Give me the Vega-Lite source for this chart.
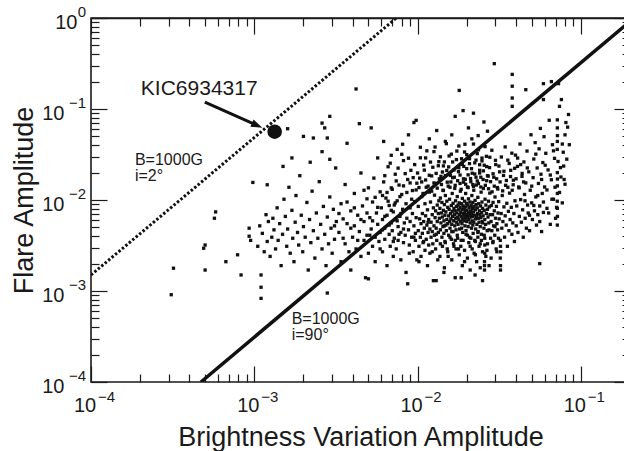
{
  "$schema": "https://vega.github.io/schema/vega-lite/v6.json",
  "width": 539,
  "height": 364,
  "autosize": {"type": "none"},
  "padding": {"left": 91, "top": 18, "right": -6, "bottom": 69},
  "background": "white",
  "config": {
    "view": {"stroke": "#1a1a1a", "strokeWidth": 1.6},
    "font": "Liberation Sans",
    "axis": {"grid": false, "domain": false, "labelColor": "#1a1a1a", "titleColor": "#1a1a1a", "labelFont": "Liberation Sans", "titleFont": "Liberation Sans", "labelFlush": false, "labelOverlap": false, "labelBound": false}
  },
  "resolve": {"axis": {"x": "independent", "y": "independent"}},
  "datasets": {
    "stars": [
      {"x":0.00031,"y":0.00091},{"x":0.00032,"y":0.00178},{"x":0.00049,"y":0.00295},{"x":0.0005,"y":0.0032},{"x":0.0005,"y":0.0017},{"x":0.00057,"y":0.0063},{"x":0.00058,"y":0.0074},{"x":0.00067,"y":0.0021},{"x":0.00079,"y":0.0025},{"x":0.00083,"y":0.0015},{"x":0.00093,"y":0.0049},{"x":0.00093,"y":0.004},{"x":0.00098,"y":0.0156},{"x":0.00095,"y":0.0036},
      {"x":0.0011,"y":0.0015},{"x":0.0011,"y":0.0011},{"x":0.0011,"y":0.00083},{"x":0.0012,"y":0.0147},{"x":0.0015,"y":0.0234},{"x":0.0016,"y":0.0607},{"x":0.002,"y":0.05},{"x":0.0023,"y":0.048},{"x":0.0026,"y":0.07},{"x":0.0027,"y":0.062},{"x":0.0028,"y":0.048},{"x":0.0028,"y":0.00095},{"x":0.0029,"y":0.083},
      {"x":0.00105,"y":0.0031},{"x":0.00108,"y":0.0052},{"x":0.00112,"y":0.0043},{"x":0.00115,"y":0.0027},{"x":0.00118,"y":0.0069},{"x":0.0012,"y":0.0035},{"x":0.00122,"y":0.0058},{"x":0.00125,"y":0.0024},{"x":0.00128,"y":0.0039},{"x":0.0013,"y":0.0063},{"x":0.00132,"y":0.0047},{"x":0.00135,"y":0.0029},{"x":0.00138,"y":0.0082},{"x":0.0014,"y":0.0036},{"x":0.00143,"y":0.0055},{"x":0.00146,"y":0.0019},{"x":0.00149,"y":0.0042},{"x":0.00152,"y":0.0102},{"x":0.00155,"y":0.0066},{"x":0.00158,"y":0.0031},{"x":0.0016,"y":0.0048},{"x":0.00163,"y":0.0138},{"x":0.00166,"y":0.0026},{"x":0.0017,"y":0.0077},{"x":0.00172,"y":0.0038},{"x":0.00175,"y":0.0021},{"x":0.00178,"y":0.0057},{"x":0.0018,"y":0.0112},{"x":0.00184,"y":0.0044},{"x":0.00187,"y":0.0032},{"x":0.0019,"y":0.0185},{"x":0.00194,"y":0.0068},{"x":0.00198,"y":0.0027},{"x":0.002,"y":0.0051},{"x":0.00205,"y":0.0039},{"x":0.0021,"y":0.0094},{"x":0.00214,"y":0.0017},{"x":0.00218,"y":0.0061},{"x":0.00222,"y":0.0034},{"x":0.00226,"y":0.0125},{"x":0.0023,"y":0.0046},{"x":0.00235,"y":0.0023},{"x":0.0024,"y":0.0072},{"x":0.00245,"y":0.0038},{"x":0.0025,"y":0.0159},{"x":0.00255,"y":0.0054},{"x":0.0026,"y":0.0029},{"x":0.00265,"y":0.0085},{"x":0.0027,"y":0.0042},{"x":0.00275,"y":0.0019},{"x":0.0028,"y":0.0065},{"x":0.00285,"y":0.0033},{"x":0.0029,"y":0.0108},{"x":0.00295,"y":0.0049},{"x":0.003,"y":0.0026},{"x":0.00305,"y":0.0079},{"x":0.0031,"y":0.0037},{"x":0.00315,"y":0.0225},{"x":0.00318,"y":0.0058},{"x":0.0017,"y":0.029},{"x":0.0022,"y":0.026},{"x":0.0026,"y":0.034},{"x":0.0029,"y":0.028},
      {"x":0.0033,"y":0.0044},{"x":0.0034,"y":0.0091},{"x":0.0034,"y":0.0021},{"x":0.0035,"y":0.0062},{"x":0.0036,"y":0.0148},{"x":0.0036,"y":0.0033},{"x":0.0037,"y":0.042},{"x":0.0037,"y":0.0055},{"x":0.0038,"y":0.0027},{"x":0.0039,"y":0.0076},{"x":0.0039,"y":0.0017},{"x":0.004,"y":0.0039},{"x":0.0041,"y":0.0118},{"x":0.0041,"y":0.0052},{"x":0.0042,"y":0.166},{"x":0.0042,"y":0.0029},{"x":0.0043,"y":0.0068},{"x":0.0044,"y":0.069},{"x":0.0044,"y":0.0045},{"x":0.0045,"y":0.0024},{"x":0.0045,"y":0.0198},{"x":0.0046,"y":0.0086},{"x":0.0047,"y":0.0036},{"x":0.0047,"y":0.0058},{"x":0.0048,"y":0.0014},{"x":0.0049,"y":0.0103},{"x":0.0049,"y":0.0041},{"x":0.005,"y":0.0136},{"x":0.005,"y":0.0026},{"x":0.0051,"y":0.0064},{"x":0.0052,"y":0.062},{"x":0.0052,"y":0.0048},{"x":0.0053,"y":0.0031},{"x":0.0053,"y":0.0095},{"x":0.0054,"y":0.0174},{"x":0.0055,"y":0.0039},{"x":0.0055,"y":0.0021},{"x":0.0056,"y":0.0072},{"x":0.0057,"y":0.0054},{"x":0.0057,"y":0.029},{"x":0.0058,"y":0.0035},{"x":0.0059,"y":0.0123},{"x":0.0059,"y":0.0044},{"x":0.006,"y":0.0082},{"x":0.0061,"y":0.0027},{"x":0.0061,"y":0.0061},{"x":0.0062,"y":0.0158},{"x":0.0063,"y":0.0049},{"x":0.0063,"y":0.0037},{"x":0.0064,"y":0.0105},{"x":0.0065,"y":0.0019},{"x":0.0065,"y":0.0068},{"x":0.0066,"y":0.0232},{"x":0.0067,"y":0.0042},{"x":0.0067,"y":0.0087},{"x":0.0068,"y":0.0031},{"x":0.0069,"y":0.0056},{"x":0.0069,"y":0.0136},{"x":0.007,"y":0.0046},{"x":0.0071,"y":0.0024},{"x":0.0071,"y":0.0074},{"x":0.0072,"y":0.0038},{"x":0.0073,"y":0.0192},{"x":0.0073,"y":0.0061},{"x":0.0074,"y":0.0029},{"x":0.0075,"y":0.0098},{"x":0.0076,"y":0.0051},{"x":0.0076,"y":0.0036},{"x":0.0077,"y":0.0146},{"x":0.0078,"y":0.0066},{"x":0.0079,"y":0.0022},{"x":0.0079,"y":0.0044},{"x":0.008,"y":0.0115},{"x":0.0081,"y":0.0079},{"x":0.0082,"y":0.0034},{"x":0.0082,"y":0.0271},{"x":0.0083,"y":0.0056},{"x":0.0084,"y":0.0041},{"x":0.0085,"y":0.0091},{"x":0.0085,"y":0.0016},{"x":0.0086,"y":0.0063},{"x":0.0087,"y":0.0012},{"x":0.0087,"y":0.0168},{"x":0.0088,"y":0.0047},{"x":0.0089,"y":0.0032},{"x":0.009,"y":0.0082},{"x":0.009,"y":0.0058},{"x":0.0091,"y":0.0212},{"x":0.0092,"y":0.0039},{"x":0.0093,"y":0.0071},{"x":0.0093,"y":0.0127},{"x":0.0094,"y":0.0027},{"x":0.0095,"y":0.0052},{"x":0.0096,"y":0.0096},{"x":0.0097,"y":0.0043},{"x":0.0097,"y":0.0036},{"x":0.0098,"y":0.0064},{"x":0.0099,"y":0.0153},{"x":0.0099,"y":0.0022},{"x":0.0062,"y":0.044},{"x":0.0075,"y":0.036},{"x":0.0088,"y":0.052},{"x":0.0095,"y":0.071},{"x":0.0098,"y":0.075},{"x":0.0069,"y":0.031},{"x":0.0081,"y":0.041},
      {"x":0.0101,"y":0.0046},{"x":0.0101,"y":0.0085},{"x":0.0102,"y":0.0031},{"x":0.0103,"y":0.0062},{"x":0.0103,"y":0.0174},{"x":0.0104,"y":0.0039},{"x":0.0105,"y":0.0055},{"x":0.0105,"y":0.0024},{"x":0.0106,"y":0.0109},{"x":0.0107,"y":0.0071},{"x":0.0107,"y":0.0043},{"x":0.0108,"y":0.0034},{"x":0.0109,"y":0.0242},{"x":0.0109,"y":0.0058},{"x":0.011,"y":0.0049},{"x":0.0111,"y":0.0091},{"x":0.0111,"y":0.0028},{"x":0.0112,"y":0.0067},{"x":0.0113,"y":0.0037},{"x":0.0113,"y":0.0138},{"x":0.0114,"y":0.0053},{"x":0.0115,"y":0.0019},{"x":0.0115,"y":0.0078},{"x":0.0116,"y":0.0044},{"x":0.0117,"y":0.0032},{"x":0.0117,"y":0.0061},{"x":0.0118,"y":0.0122},{"x":0.0119,"y":0.0048},{"x":0.0119,"y":0.0026},{"x":0.012,"y":0.0095},{"x":0.0121,"y":0.0057},{"x":0.0121,"y":0.0039},{"x":0.0122,"y":0.0184},{"x":0.0123,"y":0.0069},{"x":0.0123,"y":0.0045},{"x":0.0124,"y":0.0033},{"x":0.0125,"y":0.0082},{"x":0.0125,"y":0.0013},{"x":0.0126,"y":0.0052},{"x":0.0127,"y":0.0113},{"x":0.0127,"y":0.0041},{"x":0.0128,"y":0.0064},{"x":0.0129,"y":0.0029},{"x":0.0129,"y":0.0076},{"x":0.013,"y":0.0152},{"x":0.013,"y":0.0049},{"x":0.0131,"y":0.0036},{"x":0.0132,"y":0.0088},{"x":0.0132,"y":0.0058},{"x":0.0133,"y":0.0022},{"x":0.0134,"y":0.0071},{"x":0.0134,"y":0.0044},{"x":0.0135,"y":0.0264},{"x":0.0135,"y":0.0098},{"x":0.0104,"y":0.038},{"x":0.0112,"y":0.029},{"x":0.0118,"y":0.047},{"x":0.0126,"y":0.034},{"x":0.0131,"y":0.058},
      {"x":0.0136,"y":0.0063},{"x":0.0137,"y":0.0081},{"x":0.0138,"y":0.0047},{"x":0.0138,"y":0.0105},{"x":0.0139,"y":0.0056},{"x":0.014,"y":0.0072},{"x":0.0141,"y":0.0039},{"x":0.0141,"y":0.0094},{"x":0.0142,"y":0.0065},{"x":0.0143,"y":0.0051},{"x":0.0143,"y":0.0128},{"x":0.0144,"y":0.0077},{"x":0.0145,"y":0.0043},{"x":0.0145,"y":0.0059},{"x":0.0146,"y":0.0089},{"x":0.0147,"y":0.0035},{"x":0.0147,"y":0.0068},{"x":0.0148,"y":0.0112},{"x":0.0149,"y":0.0053},{"x":0.0149,"y":0.0074},{"x":0.015,"y":0.0046},{"x":0.0151,"y":0.0097},{"x":0.0151,"y":0.0061},{"x":0.0152,"y":0.0029},{"x":0.0153,"y":0.0083},{"x":0.0153,"y":0.0055},{"x":0.0154,"y":0.0142},{"x":0.0155,"y":0.0067},{"x":0.0155,"y":0.0041},{"x":0.0156,"y":0.0079},{"x":0.0157,"y":0.0058},{"x":0.0157,"y":0.0102},{"x":0.0158,"y":0.0049},{"x":0.0159,"y":0.0071},{"x":0.0159,"y":0.0186},{"x":0.016,"y":0.0062},{"x":0.0161,"y":0.0087},{"x":0.0161,"y":0.0037},{"x":0.0162,"y":0.0054},{"x":0.0163,"y":0.0075},{"x":0.0163,"y":0.0118},{"x":0.0164,"y":0.0066},{"x":0.0165,"y":0.0045},{"x":0.0165,"y":0.0092},{"x":0.0166,"y":0.0059},{"x":0.0167,"y":0.0081},{"x":0.0167,"y":0.0031},{"x":0.0168,"y":0.0069},{"x":0.0169,"y":0.0052},{"x":0.0169,"y":0.0134},{"x":0.017,"y":0.0076},{"x":0.0171,"y":0.0063},{"x":0.0171,"y":0.0098},{"x":0.0172,"y":0.0047},{"x":0.0173,"y":0.0085},{"x":0.0173,"y":0.0057},{"x":0.0174,"y":0.0072},{"x":0.0175,"y":0.0041},{"x":0.0175,"y":0.0109},{"x":0.0176,"y":0.0065},{"x":0.0177,"y":0.0088},{"x":0.0177,"y":0.0054},{"x":0.0178,"y":0.0078},{"x":0.0179,"y":0.0226},{"x":0.0179,"y":0.0061},{"x":0.018,"y":0.0093},{"x":0.0181,"y":0.0069},{"x":0.0181,"y":0.0048},{"x":0.0182,"y":0.0083},{"x":0.0183,"y":0.0058},{"x":0.0183,"y":0.0125},{"x":0.0184,"y":0.0073},{"x":0.0185,"y":0.0036},{"x":0.0185,"y":0.0066},{"x":0.0186,"y":0.0091},{"x":0.0187,"y":0.0055},{"x":0.0187,"y":0.0079},{"x":0.0188,"y":0.0104},{"x":0.0189,"y":0.0062},{"x":0.0189,"y":0.0044},{"x":0.019,"y":0.0086},{"x":0.0191,"y":0.0071},{"x":0.0191,"y":0.0157},{"x":0.0192,"y":0.0059},{"x":0.0193,"y":0.0081},{"x":0.0193,"y":0.0067},{"x":0.0194,"y":0.0097},{"x":0.0195,"y":0.0052},{"x":0.0195,"y":0.0075},{"x":0.0196,"y":0.0063},{"x":0.0197,"y":0.0118},{"x":0.0197,"y":0.0084},{"x":0.0198,"y":0.0046},{"x":0.0199,"y":0.0069},{"x":0.0199,"y":0.0092},{"x":0.02,"y":0.0058},{"x":0.0201,"y":0.0077},{"x":0.0202,"y":0.0139},{"x":0.0202,"y":0.0064},{"x":0.0203,"y":0.0088},{"x":0.0204,"y":0.0051},{"x":0.0205,"y":0.0072},{"x":0.0205,"y":0.0103},{"x":0.0206,"y":0.0061},{"x":0.0207,"y":0.0083},{"x":0.0208,"y":0.0039},{"x":0.0208,"y":0.0068},{"x":0.0209,"y":0.0095},{"x":0.021,"y":0.0056},{"x":0.0211,"y":0.0076},{"x":0.0211,"y":0.0172},{"x":0.0212,"y":0.0065},{"x":0.0213,"y":0.0087},{"x":0.0214,"y":0.0049},{"x":0.0214,"y":0.0071},{"x":0.0215,"y":0.0112},{"x":0.0216,"y":0.0059},{"x":0.0217,"y":0.0081},{"x":0.0217,"y":0.0066},{"x":0.0218,"y":0.0094},{"x":0.0219,"y":0.0043},{"x":0.022,"y":0.0074},{"x":0.0221,"y":0.0128},{"x":0.0221,"y":0.0057},{"x":0.0222,"y":0.0085},{"x":0.0223,"y":0.0068},{"x":0.0224,"y":0.0036},{"x":0.0225,"y":0.0099},{"x":0.0226,"y":0.0062},{"x":0.0226,"y":0.0078},{"x":0.0227,"y":0.0048},{"x":0.0228,"y":0.0089},{"x":0.0229,"y":0.0146},{"x":0.023,"y":0.0066},{"x":0.0231,"y":0.0054},{"x":0.0232,"y":0.0082},{"x":0.0233,"y":0.0071},{"x":0.0234,"y":0.0107},{"x":0.0235,"y":0.0045},{"x":0.0236,"y":0.0063},{"x":0.0237,"y":0.0091},{"x":0.0238,"y":0.0057},{"x":0.0239,"y":0.0076},{"x":0.024,"y":0.0198},{"x":0.0241,"y":0.0069},{"x":0.0242,"y":0.0051},{"x":0.0243,"y":0.0086},{"x":0.0244,"y":0.0064},{"x":0.0245,"y":0.0122},{"x":0.0246,"y":0.0042},{"x":0.0247,"y":0.0073},{"x":0.0248,"y":0.0095},{"x":0.0249,"y":0.0058},{"x":0.025,"y":0.0081},{"x":0.0252,"y":0.0067},{"x":0.0253,"y":0.0134},{"x":0.0255,"y":0.0049},{"x":0.0256,"y":0.0077},{"x":0.0258,"y":0.0061},{"x":0.0259,"y":0.0102},{"x":0.0261,"y":0.0054},{"x":0.0262,"y":0.0088},{"x":0.0264,"y":0.0071},{"x":0.0265,"y":0.0163},{"x":0.0267,"y":0.0046},{"x":0.0268,"y":0.0079},{"x":0.027,"y":0.0065},{"x":0.0272,"y":0.0097},{"x":0.0273,"y":0.0056},{"x":0.0275,"y":0.0084},{"x":0.0277,"y":0.0119},{"x":0.0278,"y":0.0069},
      {"x":0.0137,"y":0.0024},{"x":0.0139,"y":0.0182},{"x":0.0142,"y":0.0031},{"x":0.0144,"y":0.0237},{"x":0.0146,"y":0.0018},{"x":0.0148,"y":0.0034},{"x":0.0151,"y":0.0211},{"x":0.0153,"y":0.0027},{"x":0.0156,"y":0.0305},{"x":0.0158,"y":0.0039},{"x":0.016,"y":0.0158},{"x":0.0162,"y":0.0022},{"x":0.0164,"y":0.0262},{"x":0.0166,"y":0.0033},{"x":0.0168,"y":0.0178},{"x":0.017,"y":0.0014},{"x":0.0172,"y":0.0029},{"x":0.0174,"y":0.0345},{"x":0.0176,"y":0.0038},{"x":0.0178,"y":0.0205},{"x":0.018,"y":0.0025},{"x":0.0182,"y":0.0152},{"x":0.0184,"y":0.0031},{"x":0.0186,"y":0.0284},{"x":0.0188,"y":0.0019},{"x":0.019,"y":0.0036},{"x":0.0192,"y":0.0234},{"x":0.0194,"y":0.0028},{"x":0.0196,"y":0.0169},{"x":0.0198,"y":0.0042},{"x":0.02,"y":0.0315},{"x":0.0202,"y":0.0023},{"x":0.0204,"y":0.0189},{"x":0.0206,"y":0.0034},{"x":0.0208,"y":0.0251},{"x":0.021,"y":0.0017},{"x":0.0212,"y":0.0038},{"x":0.0214,"y":0.0221},{"x":0.0216,"y":0.0029},{"x":0.0218,"y":0.0148},{"x":0.022,"y":0.0412},{"x":0.0222,"y":0.0026},{"x":0.0224,"y":0.0193},{"x":0.0226,"y":0.0035},{"x":0.0228,"y":0.0274},{"x":0.023,"y":0.0021},{"x":0.0232,"y":0.0162},{"x":0.0234,"y":0.0039},{"x":0.0236,"y":0.0356},{"x":0.0238,"y":0.0031},{"x":0.024,"y":0.0244},{"x":0.0242,"y":0.0018},{"x":0.0244,"y":0.0178},{"x":0.0246,"y":0.0036},{"x":0.0248,"y":0.0289},{"x":0.025,"y":0.0027},{"x":0.0253,"y":0.0209},{"x":0.0256,"y":0.0041},{"x":0.0259,"y":0.0386},{"x":0.0262,"y":0.0024},{"x":0.0265,"y":0.0233},{"x":0.0268,"y":0.0033},{"x":0.0271,"y":0.0183},{"x":0.0274,"y":0.0019},{"x":0.0277,"y":0.0295},{"x":0.028,"y":0.0038},
      {"x":0.0257,"y":0.0017},{"x":0.0257,"y":0.0021},{"x":0.0258,"y":0.0026},{"x":0.0258,"y":0.0032},{"x":0.0257,"y":0.0019},
      {"x":0.017,"y":0.083},{"x":0.018,"y":0.16},{"x":0.019,"y":0.096},{"x":0.022,"y":0.09},{"x":0.0205,"y":0.062},{"x":0.0235,"y":0.051},{"x":0.0162,"y":0.052},{"x":0.0148,"y":0.044},{"x":0.0268,"y":0.057},{"x":0.0255,"y":0.072},{"x":0.0215,"y":0.047},{"x":0.0195,"y":0.041},
      {"x":0.025,"y":0.0013},{"x":0.013,"y":0.0013},{"x":0.005,"y":0.00136},{"x":0.0145,"y":0.0016},{"x":0.0185,"y":0.0014},{"x":0.0225,"y":0.0015},
      {"x":0.0282,"y":0.0058},{"x":0.0283,"y":0.0087},{"x":0.0285,"y":0.0046},{"x":0.0286,"y":0.0123},{"x":0.0288,"y":0.0069},{"x":0.0289,"y":0.0034},{"x":0.029,"y":0.0094},{"x":0.0292,"y":0.0052},{"x":0.0293,"y":0.0178},{"x":0.0295,"y":0.315},{"x":0.0295,"y":0.0076},{"x":0.0297,"y":0.0041},{"x":0.0298,"y":0.0108},{"x":0.03,"y":0.0063},{"x":0.0301,"y":0.0245},{"x":0.0303,"y":0.0029},{"x":0.0304,"y":0.0085},{"x":0.0306,"y":0.0055},{"x":0.0308,"y":0.0137},{"x":0.0309,"y":0.0047},{"x":0.0311,"y":0.0072},{"x":0.0313,"y":0.0038},{"x":0.0314,"y":0.0096},{"x":0.0316,"y":0.0062},{"x":0.0318,"y":0.0204},
      {"x":0.0322,"y":0.0017},{"x":0.0322,"y":0.0019},{"x":0.0321,"y":0.0023},{"x":0.0323,"y":0.0027},{"x":0.0322,"y":0.0031},{"x":0.0321,"y":0.0036},
      {"x":0.0325,"y":0.0071},{"x":0.0328,"y":0.0049},{"x":0.033,"y":0.0112},{"x":0.0333,"y":0.0058},{"x":0.0336,"y":0.0186},{"x":0.0338,"y":0.0084},{"x":0.0341,"y":0.0039},{"x":0.0344,"y":0.0067},{"x":0.0346,"y":0.0145},{"x":0.0349,"y":0.0053},{"x":0.0352,"y":0.0092},{"x":0.0355,"y":0.0031},{"x":0.0357,"y":0.0274},{"x":0.036,"y":0.0075},{"x":0.0363,"y":0.0046},{"x":0.0366,"y":0.0119},{"x":0.0369,"y":0.0061},{"x":0.0372,"y":0.0212},{"x":0.0375,"y":0.0083},{"x":0.0378,"y":0.0042},{"x":0.038,"y":0.0128},{"x":0.038,"y":0.24},{"x":0.038,"y":0.178},{"x":0.038,"y":0.132},{"x":0.038,"y":0.107},{"x":0.0383,"y":0.0056},{"x":0.0386,"y":0.0165},{"x":0.0389,"y":0.0071},{"x":0.0392,"y":0.0035},{"x":0.0395,"y":0.0098},{"x":0.0398,"y":0.0311},{"x":0.0402,"y":0.0052},{"x":0.0405,"y":0.0086},{"x":0.0409,"y":0.0234},{"x":0.0412,"y":0.0044},{"x":0.0416,"y":0.0139},{"x":0.042,"y":0.0066},{"x":0.0424,"y":0.0412},{"x":0.0428,"y":0.0101},{"x":0.0432,"y":0.0057},{"x":0.0436,"y":0.0182},{"x":0.044,"y":0.0078},{"x":0.0444,"y":0.0039},{"x":0.0448,"y":0.0262},{"x":0.0452,"y":0.0115},{"x":0.0456,"y":0.0063},{"x":0.046,"y":0.163},{"x":0.046,"y":0.0154},{"x":0.0464,"y":0.0049},{"x":0.0468,"y":0.0345},{"x":0.0472,"y":0.0088},{"x":0.0476,"y":0.0072},{"x":0.048,"y":0.0204},{"x":0.0485,"y":0.0046},{"x":0.049,"y":0.0128},{"x":0.0495,"y":0.0521},{"x":0.05,"y":0.0093},{"x":0.0505,"y":0.0061},{"x":0.051,"y":0.0176},{"x":0.0515,"y":0.0282},{"x":0.052,"y":0.0076},{"x":0.0525,"y":0.0427},{"x":0.053,"y":0.0108},{"x":0.0535,"y":0.0053},{"x":0.054,"y":0.0225},{"x":0.0545,"y":0.0069},{"x":0.055,"y":0.0152},{"x":0.056,"y":0.002},{"x":0.0555,"y":0.0365},{"x":0.056,"y":0.0086},{"x":0.0565,"y":0.0612},{"x":0.057,"y":0.0192},{"x":0.0575,"y":0.0045},{"x":0.058,"y":0.0118},{"x":0.059,"y":0.19},{"x":0.059,"y":0.127},{"x":0.0585,"y":0.0258},{"x":0.059,"y":0.0073},{"x":0.0595,"y":0.0496},{"x":0.06,"y":0.0139},{"x":0.061,"y":0.0326},{"x":0.062,"y":0.0081},{"x":0.063,"y":0.0214},{"x":0.064,"y":0.0752},{"x":0.065,"y":0.0054},{"x":0.066,"y":0.2},{"x":0.066,"y":0.0167},{"x":0.067,"y":0.0405},{"x":0.068,"y":0.0102},{"x":0.069,"y":0.0287},{"x":0.07,"y":0.0063},{"x":0.073,"y":0.19},{"x":0.076,"y":0.127},{"x":0.074,"y":0.107},{"x":0.084,"y":0.087},
      {"x":0.0718,"y":0.076},{"x":0.0718,"y":0.062},{"x":0.0719,"y":0.051},{"x":0.0718,"y":0.044},{"x":0.0717,"y":0.036},{"x":0.0718,"y":0.02},{"x":0.0719,"y":0.017},{"x":0.0718,"y":0.0143},{"x":0.0718,"y":0.0118},{"x":0.0717,"y":0.0097},{"x":0.0718,"y":0.0081},{"x":0.0719,"y":0.0066},{"x":0.0718,"y":0.0053},
      {"x":0.077,"y":0.0412},{"x":0.078,"y":0.0335},{"x":0.08,"y":0.052},{"x":0.082,"y":0.0281},{"x":0.085,"y":0.0405},{"x":0.075,"y":0.0227},{"x":0.079,"y":0.0168},{"x":0.083,"y":0.0632},{"x":0.081,"y":0.071},
      {"x":0.0061,"y":0.0112},{"x":0.0063,"y":0.0185},{"x":0.0066,"y":0.0097},{"x":0.0068,"y":0.0254},{"x":0.007,"y":0.0131},{"x":0.0072,"y":0.0088},{"x":0.0074,"y":0.0162},{"x":0.0076,"y":0.0224},{"x":0.0078,"y":0.0109},{"x":0.008,"y":0.0318},{"x":0.0082,"y":0.0143},{"x":0.0084,"y":0.0195},{"x":0.0086,"y":0.0121},{"x":0.0088,"y":0.0288},{"x":0.009,"y":0.0154},{"x":0.0092,"y":0.0102},{"x":0.0094,"y":0.0176},{"x":0.0096,"y":0.0245},{"x":0.0098,"y":0.0129},{"x":0.01,"y":0.0198},{"x":0.0102,"y":0.0137},{"x":0.0104,"y":0.0291},{"x":0.0106,"y":0.0158},{"x":0.0108,"y":0.0118},{"x":0.011,"y":0.0213},{"x":0.0112,"y":0.0166},{"x":0.0114,"y":0.0347},{"x":0.0116,"y":0.0142},{"x":0.0118,"y":0.0187},{"x":0.012,"y":0.0261},{"x":0.0122,"y":0.0125},{"x":0.0124,"y":0.0229},{"x":0.0126,"y":0.0154},{"x":0.0128,"y":0.0382},{"x":0.013,"y":0.0196},{"x":0.0132,"y":0.0135},{"x":0.0134,"y":0.0238},{"x":0.0136,"y":0.0171},{"x":0.0138,"y":0.0298},{"x":0.014,"y":0.0148},{"x":0.0142,"y":0.0203},{"x":0.0144,"y":0.0127},{"x":0.0146,"y":0.0262},{"x":0.0148,"y":0.0185},{"x":0.015,"y":0.0416},
      {"x":0.0152,"y":0.0157},{"x":0.0155,"y":0.0231},{"x":0.0158,"y":0.0138},{"x":0.0161,"y":0.0319},{"x":0.0164,"y":0.0176},{"x":0.0167,"y":0.0214},{"x":0.017,"y":0.0145},{"x":0.0173,"y":0.0278},{"x":0.0176,"y":0.0163},{"x":0.0179,"y":0.0392},{"x":0.0182,"y":0.0188},{"x":0.0185,"y":0.0131},{"x":0.0188,"y":0.0246},{"x":0.0191,"y":0.0171},{"x":0.0194,"y":0.0337},{"x":0.0197,"y":0.0149},{"x":0.02,"y":0.0221},{"x":0.0204,"y":0.0137},{"x":0.0208,"y":0.0284},{"x":0.0212,"y":0.0159},{"x":0.0216,"y":0.0197},{"x":0.022,"y":0.0141},{"x":0.0224,"y":0.0256},{"x":0.0228,"y":0.0178},{"x":0.0232,"y":0.0323},{"x":0.0236,"y":0.0152},{"x":0.024,"y":0.0212},{"x":0.0244,"y":0.0139},{"x":0.0248,"y":0.0269},{"x":0.0252,"y":0.0168},{"x":0.0256,"y":0.0241},{"x":0.026,"y":0.0145},{"x":0.0264,"y":0.0302},{"x":0.0268,"y":0.0185},{"x":0.0272,"y":0.0133},{"x":0.0276,"y":0.0227},{"x":0.028,"y":0.0159},{"x":0.0285,"y":0.0352},{"x":0.029,"y":0.0194},{"x":0.0295,"y":0.0142},{"x":0.03,"y":0.0273},{"x":0.0305,"y":0.0171},{"x":0.031,"y":0.0132},{"x":0.0315,"y":0.0236},{"x":0.032,"y":0.0158},{"x":0.0326,"y":0.0297},{"x":0.0332,"y":0.0126},{"x":0.0338,"y":0.0207},{"x":0.0344,"y":0.0383},{"x":0.035,"y":0.0164},{"x":0.0357,"y":0.0138},{"x":0.0364,"y":0.0252},{"x":0.0371,"y":0.0181},{"x":0.0378,"y":0.0327},{"x":0.0385,"y":0.0147},{"x":0.0393,"y":0.0223},{"x":0.0401,"y":0.0171},{"x":0.041,"y":0.0289},{"x":0.0419,"y":0.0136},{"x":0.0428,"y":0.0245},{"x":0.0437,"y":0.0196},{"x":0.0446,"y":0.0158},
      {"x":0.0082,"y":0.0048},{"x":0.0089,"y":0.0026},{"x":0.0095,"y":0.0039},{"x":0.0102,"y":0.0021},{"x":0.0109,"y":0.0035},{"x":0.0116,"y":0.0057},{"x":0.0123,"y":0.0027},{"x":0.013,"y":0.0042},{"x":0.0138,"y":0.0033},{"x":0.0146,"y":0.0052},{"x":0.0154,"y":0.0024},{"x":0.0162,"y":0.0045},{"x":0.017,"y":0.0036},{"x":0.0178,"y":0.0029},{"x":0.0186,"y":0.0049},{"x":0.0194,"y":0.0021},{"x":0.0202,"y":0.0041},{"x":0.021,"y":0.0031},{"x":0.0218,"y":0.0053},{"x":0.0226,"y":0.0025},{"x":0.0234,"y":0.0044},{"x":0.0242,"y":0.0033},{"x":0.025,"y":0.0056},{"x":0.0258,"y":0.0038},{"x":0.0266,"y":0.0028},{"x":0.0274,"y":0.0047},{"x":0.0282,"y":0.0023},{"x":0.029,"y":0.0035},{"x":0.0298,"y":0.0051},{"x":0.0306,"y":0.0027},
      {"x":0.0031,"y":0.0052},{"x":0.0033,"y":0.0071},{"x":0.0035,"y":0.0038},{"x":0.0037,"y":0.0095},{"x":0.0039,"y":0.0049},{"x":0.0041,"y":0.0082},{"x":0.0043,"y":0.0036},{"x":0.0045,"y":0.0061},{"x":0.0047,"y":0.0128},{"x":0.0049,"y":0.0072},{"x":0.0051,"y":0.0041},{"x":0.0053,"y":0.0059},{"x":0.0055,"y":0.0107},{"x":0.0057,"y":0.0083},{"x":0.0059,"y":0.0029},{"x":0.0061,"y":0.0047},{"x":0.0063,"y":0.0066},{"x":0.0065,"y":0.0121},{"x":0.0067,"y":0.0053},{"x":0.0069,"y":0.0077},{"x":0.0071,"y":0.0035},{"x":0.0073,"y":0.0093},{"x":0.0075,"y":0.0059},{"x":0.0077,"y":0.0042},{"x":0.0079,"y":0.0071},
      {"x":0.0455,"y":0.0098},{"x":0.047,"y":0.0225},{"x":0.0485,"y":0.0068},{"x":0.05,"y":0.0142},{"x":0.0515,"y":0.0087},{"x":0.053,"y":0.0319},{"x":0.0545,"y":0.0112},{"x":0.056,"y":0.0058},{"x":0.0575,"y":0.0168},{"x":0.059,"y":0.0095},{"x":0.0605,"y":0.0241},{"x":0.062,"y":0.0129},{"x":0.0635,"y":0.0072},{"x":0.065,"y":0.0188},{"x":0.0665,"y":0.0102},{"x":0.068,"y":0.0347},{"x":0.0695,"y":0.0138},{"x":0.071,"y":0.0083},{"x":0.0725,"y":0.0265},{"x":0.074,"y":0.0121},{"x":0.0755,"y":0.0179},{"x":0.077,"y":0.0093},{"x":0.0785,"y":0.0236},{"x":0.08,"y":0.0149}
    ],
    "solid": [{"x":0.000471,"y":0.0001},{"x":0.2,"y":0.918}],
    "dotted": [{"x":0.0001,"y":0.0015},{"x":0.00741,"y":1}],
    "star": [{"x":0.001333,"y":0.0563}],
    "kic": [{"x":0.000202,"y":0.1425,"label":"KIC6934317"}],
    "models": [{"x":0.0001858,"y":0.02425,"label":"B=1000G\ni=2°"},{"x":0.001695,"y":0.000434,"label":"B=1000G\ni=90°"}],
    "arrowline": [{"x":0.000498,"y":0.119},{"x":0.001042,"y":0.0659}],
    "arrowhead": [{"x":0.001042,"y":0.0659}]
  },
  "layer": [
    {
      "data": {"name": "stars"},
      "mark": {"type": "point", "shape": "square", "filled": true, "size": 11, "color": "#111111", "opacity": 1, "strokeWidth": 0},
      "encoding": {
        "x": {"field": "x", "type": "quantitative", "scale": {"type": "log", "domain": [0.0001, 0.2], "nice": false},
          "axis": {"orient": "bottom", "values": [0.0001, 0.001, 0.01, 0.1], "ticks": false, "labelExpr": "'10'", "labelFontSize": 20, "labelAlign": "center", "labelBaseline": "alphabetic", "labelOffset": -6.5, "labelPadding": 29.5,
            "title": "Brightness Variation Amplitude", "titleFontSize": 27, "titleFontWeight": "normal", "titleX": 269.5, "titleY": 63, "titleBaseline": "alphabetic", "titleAlign": "center"}},
        "y": {"field": "y", "type": "quantitative", "scale": {"type": "log", "domain": [0.0001, 1], "nice": false},
          "axis": {"orient": "left", "values": [0.0001, 0.001, 0.01, 0.1, 1], "ticks": false, "labelExpr": "'10'", "labelFontSize": 20, "labelAlign": "right", "labelBaseline": "alphabetic", "labelOffset": 10.5, "labelPadding": {"condition": {"test": "datum.value >= 0.5", "value": 14}, "value": 27},
            "title": "Flare Amplitude", "titleFontSize": 27, "titleFontWeight": "normal", "titleAngle": 270, "titleX": -59, "titleY": 182, "titleBaseline": "alphabetic", "titleAlign": "center"}}
      }
    },
    {
      "data": {"name": "solid"},
      "mark": {"type": "line", "color": "#111111", "strokeWidth": 3.5, "clip": true},
      "encoding": {
        "x": {"field": "x", "type": "quantitative", "scale": {"type": "log", "domain": [0.0001, 0.2], "nice": false},
          "axis": {"orient": "bottom", "values": [0.0002,0.0003,0.0004,0.0005,0.0006,0.0007,0.0008,0.0009,0.002,0.003,0.004,0.005,0.006,0.007,0.008,0.009,0.02,0.03,0.04,0.05,0.06,0.07,0.08,0.09], "offset": -8, "tickSize": 8, "tickColor": "#1a1a1a", "tickWidth": 1.2, "labels": false, "title": null}},
        "y": {"field": "y", "type": "quantitative", "scale": {"type": "log", "domain": [0.0001, 1], "nice": false},
          "axis": {"orient": "left", "values": [0.0002,0.0003,0.0004,0.0005,0.0006,0.0007,0.0008,0.0009,0.002,0.003,0.004,0.005,0.006,0.007,0.008,0.009,0.02,0.03,0.04,0.05,0.06,0.07,0.08,0.09,0.2,0.3,0.4,0.5,0.6,0.7,0.8,0.9], "offset": -8, "tickSize": 8, "tickColor": "#1a1a1a", "tickWidth": 1.2, "labels": false, "title": null}}
      }
    },
    {
      "data": {"name": "dotted"},
      "mark": {"type": "line", "color": "#111111", "strokeWidth": 3, "strokeDash": [2.5, 2], "clip": true},
      "encoding": {
        "x": {"field": "x", "type": "quantitative", "scale": {"type": "log", "domain": [0.0001, 0.2], "nice": false},
          "axis": {"orient": "bottom", "values": [0.0001, 0.001, 0.01, 0.1], "ticks": false, "labelExpr": "'−' + round(-log(datum.value)/LN10)", "labelFontSize": 15, "labelAlign": "center", "labelBaseline": "alphabetic", "labelOffset": 15, "labelPadding": 19.5, "title": null}},
        "y": {"field": "y", "type": "quantitative", "scale": {"type": "log", "domain": [0.0001, 1], "nice": false},
          "axis": {"orient": "left", "values": [0.0001, 0.001, 0.01, 0.1, 1], "ticks": false, "labelExpr": "datum.value >= 0.5 ? '0' : '−' + round(-log(datum.value)/LN10)", "labelFontSize": 15, "labelAlign": "right", "labelBaseline": "alphabetic", "labelOffset": -1.5, "labelPadding": 5.5, "title": null}}
      }
    },
    {
      "data": {"name": "star"},
      "mark": {"type": "point", "shape": "circle", "filled": true, "size": 210, "color": "#111111", "opacity": 1},
      "encoding": {
        "x": {"field": "x", "type": "quantitative", "scale": {"type": "log", "domain": [0.0001, 0.2], "nice": false},
          "axis": {"orient": "top", "values": [0.0001, 0.001, 0.01, 0.1], "offset": -16, "tickSize": 16, "tickColor": "#1a1a1a", "tickWidth": 1.2, "labels": false, "title": null}},
        "y": {"field": "y", "type": "quantitative", "scale": {"type": "log", "domain": [0.0001, 1], "nice": false},
          "axis": {"orient": "right", "values": [0.0001, 0.001, 0.01, 0.1, 1], "offset": -16, "tickSize": 16, "tickColor": "#1a1a1a", "tickWidth": 1.2, "labels": false, "title": null}}
      }
    },
    {
      "data": {"name": "kic"},
      "mark": {"type": "text", "align": "left", "baseline": "alphabetic", "fontSize": 21, "color": "#1a1a1a", "font": "Liberation Sans"},
      "encoding": {
        "x": {"field": "x", "type": "quantitative", "scale": {"type": "log", "domain": [0.0001, 0.2], "nice": false},
          "axis": {"orient": "top", "values": [0.0002,0.0003,0.0004,0.0005,0.0006,0.0007,0.0008,0.0009,0.002,0.003,0.004,0.005,0.006,0.007,0.008,0.009,0.02,0.03,0.04,0.05,0.06,0.07,0.08,0.09], "offset": -8, "tickSize": 8, "tickColor": "#1a1a1a", "tickWidth": 1.2, "labels": false, "title": null}},
        "y": {"field": "y", "type": "quantitative", "scale": {"type": "log", "domain": [0.0001, 1], "nice": false},
          "axis": {"orient": "right", "values": [0.0002,0.0003,0.0004,0.0005,0.0006,0.0007,0.0008,0.0009,0.002,0.003,0.004,0.005,0.006,0.007,0.008,0.009,0.02,0.03,0.04,0.05,0.06,0.07,0.08,0.09,0.2,0.3,0.4,0.5,0.6,0.7,0.8,0.9], "offset": -8, "tickSize": 8, "tickColor": "#1a1a1a", "tickWidth": 1.2, "labels": false, "title": null}},
        "text": {"field": "label"}
      }
    },
    {
      "data": {"name": "models"},
      "mark": {"type": "text", "align": "left", "baseline": "alphabetic", "fontSize": 16, "lineHeight": 16, "lineBreak": "\n", "color": "#1a1a1a", "font": "Liberation Sans"},
      "encoding": {
        "x": {"field": "x", "type": "quantitative", "scale": {"type": "log", "domain": [0.0001, 0.2], "nice": false},
          "axis": {"orient": "bottom", "values": [0.0001, 0.001, 0.01, 0.1], "offset": -16, "tickSize": 16, "tickColor": "#1a1a1a", "tickWidth": 1.2, "labels": false, "title": null}},
        "y": {"field": "y", "type": "quantitative", "scale": {"type": "log", "domain": [0.0001, 1], "nice": false},
          "axis": {"orient": "left", "values": [0.0001, 0.001, 0.01, 0.1, 1], "offset": -16, "tickSize": 16, "tickColor": "#1a1a1a", "tickWidth": 1.2, "labels": false, "title": null}},
        "text": {"field": "label"}
      }
    },
    {
      "data": {"name": "arrowline"},
      "mark": {"type": "line", "color": "#111111", "strokeWidth": 3},
      "encoding": {
        "x": {"field": "x", "type": "quantitative", "scale": {"type": "log", "domain": [0.0001, 0.2], "nice": false},
          "axis": {"orient": "top", "values": [0.0001], "ticks": false, "labels": false, "domain": true, "domainColor": "#1a1a1a", "domainWidth": 1.6, "title": null}},
        "y": {"field": "y", "type": "quantitative", "scale": {"type": "log", "domain": [0.0001, 1], "nice": false}, "axis": null}
      }
    },
    {
      "data": {"name": "arrowhead"},
      "mark": {"type": "point", "shape": "M0.9135,0.4067L-0.6288,-1.0462L-1.1982,0.2328Z", "filled": true, "size": 130, "color": "#111111", "opacity": 1},
      "encoding": {
        "x": {"field": "x", "type": "quantitative", "scale": {"type": "log", "domain": [0.0001, 0.2], "nice": false}, "axis": null},
        "y": {"field": "y", "type": "quantitative", "scale": {"type": "log", "domain": [0.0001, 1], "nice": false}, "axis": null}
      }
    }
  ]
}
